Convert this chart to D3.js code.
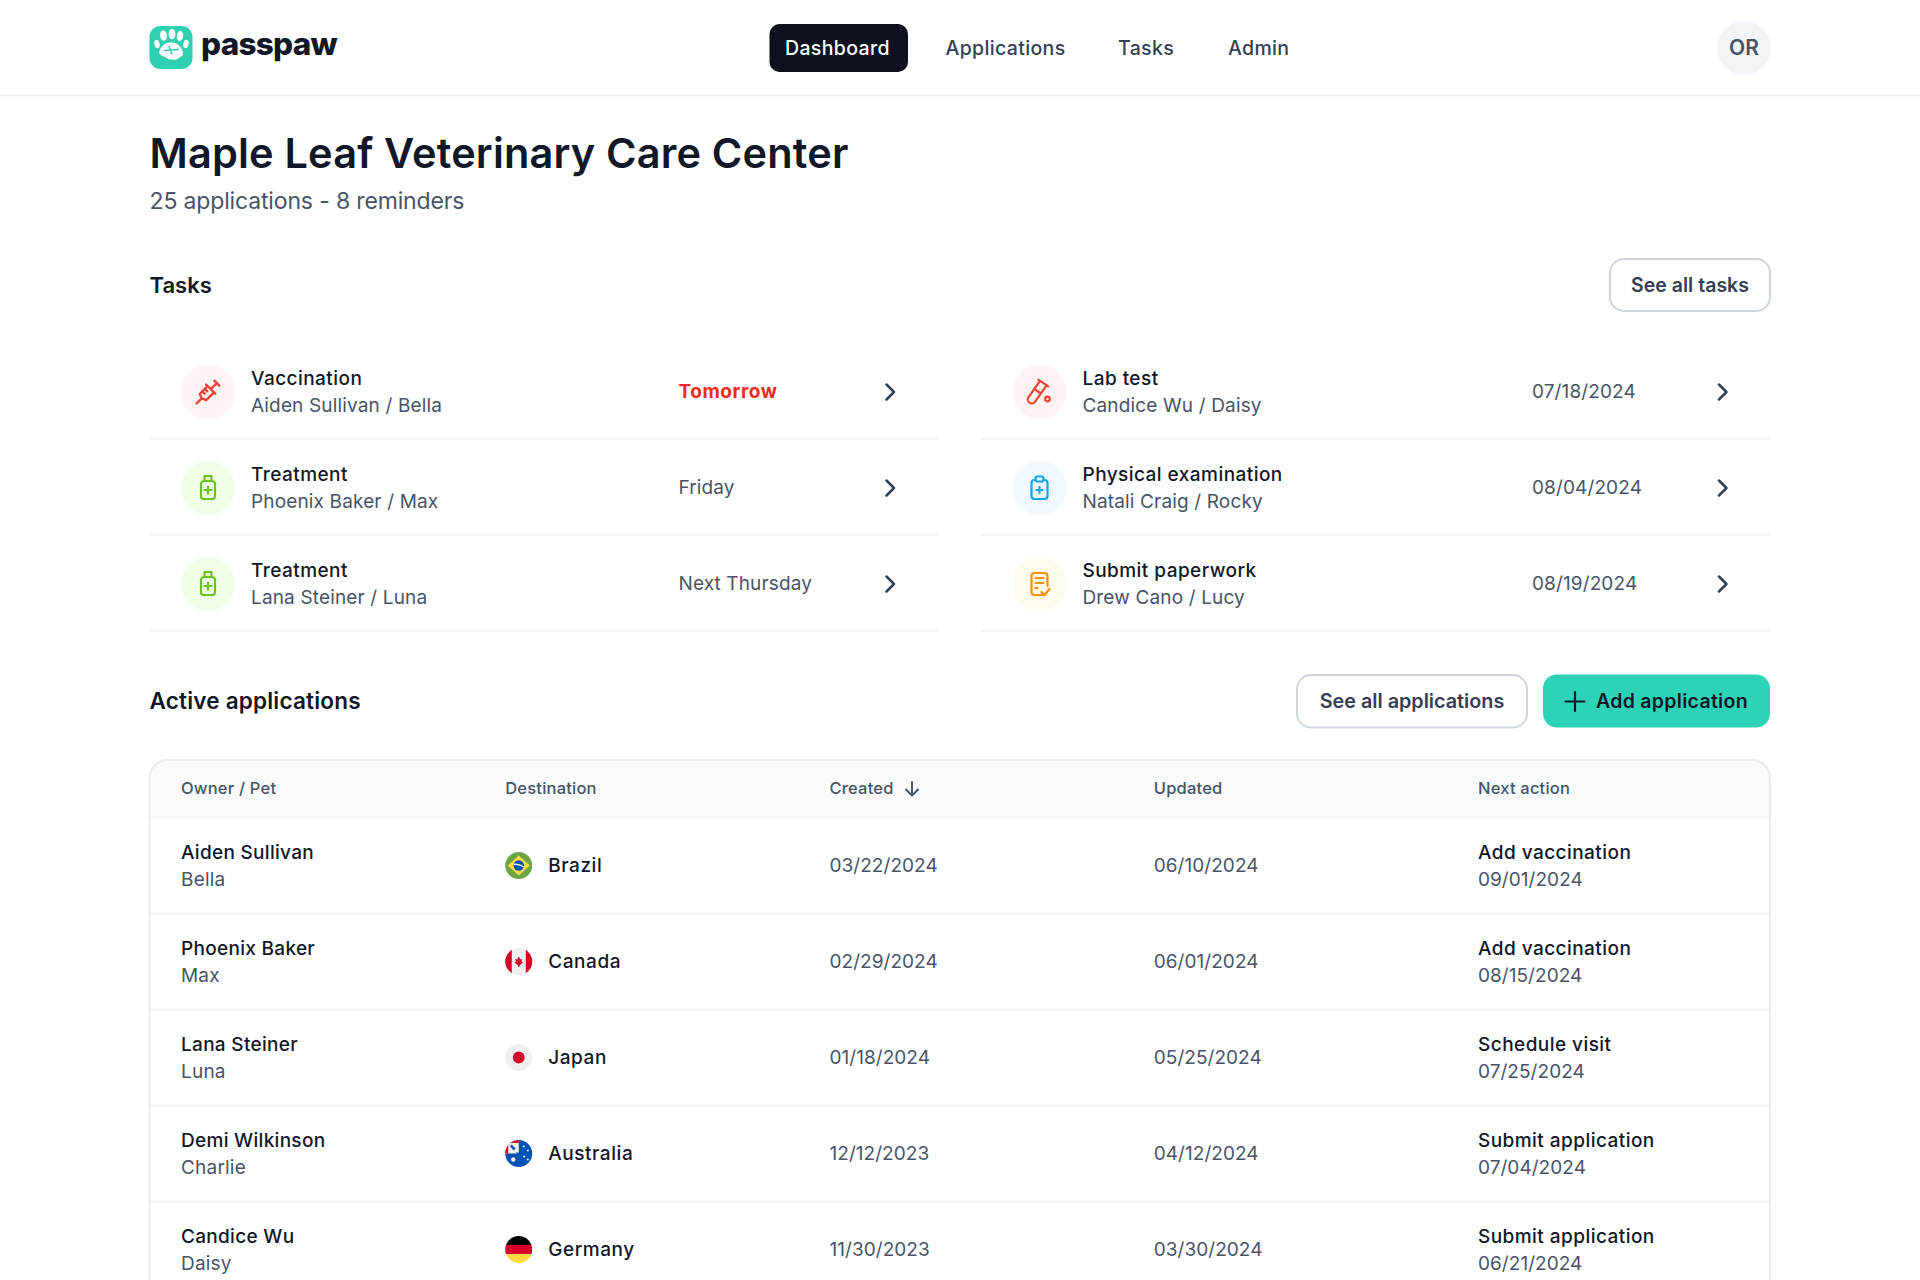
<!DOCTYPE html>
<html><head><meta charset="utf-8">
<script src="https://cdn.jsdelivr.net/npm/d3@7/dist/d3.min.js"></script>
<style>html,body{margin:0;padding:0;background:#fff;overflow:hidden}svg{display:block}text{font-family:Inter,"Noto Sans",sans-serif}</style>
</head><body><div id="c"></div>
<script>
const brandName = "passpaw";
const navItems = ["Dashboard","Applications","Tasks","Admin"];
const avatarInitials = "OR";
const pageTitle = "Maple Leaf Veterinary Care Center";
const pageSubtitle = "25 applications - 8 reminders";
const tasksHeading = "Tasks";
const appsHeading = "Active applications";

const taskTitles = ["Vaccination","Treatment","Treatment","Lab test","Physical examination","Submit paperwork"];
const taskPeople = ["Aiden Sullivan / Bella","Phoenix Baker / Max","Lana Steiner / Luna","Candice Wu / Daisy","Natali Craig / Rocky","Drew Cano / Lucy"];
const taskWhen = ["Tomorrow","Friday","Next Thursday","07/18/2024","08/04/2024","08/19/2024"];
const taskIcons = ["syringe","bottle","bottle","tube","clipboard","paper"];

const columnHeads = ["Owner / Pet","Destination","Created","Updated","Next action"];
const owners = ["Aiden Sullivan","Phoenix Baker","Lana Steiner","Demi Wilkinson","Candice Wu"];
const pets = ["Bella","Max","Luna","Charlie","Daisy"];
const destinations = ["Brazil","Canada","Japan","Australia","Germany"];
const created = ["03/22/2024","02/29/2024","01/18/2024","12/12/2023","11/30/2023"];
const updated = ["06/10/2024","06/01/2024","05/25/2024","04/12/2024","03/30/2024"];
const nextActions = ["Add vaccination","Add vaccination","Schedule visit","Submit application","Submit application"];
const nextDates = ["09/01/2024","08/15/2024","07/25/2024","07/04/2024","06/21/2024"];

const W=1920,H=1280, L=149.5, R=1770;
const INK="#101828", MID="#475467", DARK="#344054", TEAL="#2ed3b7";
const svg=d3.select("#c").append("svg").attr("width",W).attr("height",H).attr("viewBox",[0,0,W,H]);
const defs=svg.append("defs");

function txt(g,x,y,s,size,weight,fill,ls,anchor){
  return g.append("text").attr("x",x).attr("y",y).attr("dy","0.35em").text(s)
    .attr("font-size",size).attr("font-weight",weight).attr("fill",fill)
    .attr("letter-spacing",ls||0).attr("text-anchor",anchor||"start");
}

/* header */
svg.append("line").attr("x1",0).attr("x2",W).attr("y1",95.5).attr("y2",95.5).attr("stroke","#eaecf0").attr("stroke-width",1.5);
const logo=svg.append("g").attr("transform","translate(171,47.5)");
logo.append("rect").attr("x",-21.5).attr("y",-21.5).attr("width",43).attr("height",43).attr("rx",11).attr("fill","#2fd0b0");
[[-7.5,-12,3.4,5.2,-8],[1,-13.5,3.4,5.2,0],[9,-11.5,3.2,5,8],[-14,-3.5,2.6,4.2,-12],[15,-3.5,2.6,4.2,12]].forEach(e=>{
  logo.append("ellipse").attr("cx",e[0]).attr("cy",e[1]).attr("rx",e[2]).attr("ry",e[3]).attr("fill","#fff")
    .attr("transform",`rotate(${e[4]},${e[0]},${e[1]})`);
});
logo.append("path").attr("d","M0,-5 C7,-5 11,0 12,5 C12.5,9 9,9 7,11 C4,14 0,11 -2,12 C-5,9 -11,9 -12,5 C-11,0 -7,-5 0,-5Z").attr("fill","#fff");
logo.append("path").attr("d","M-7,3 L8,2 M-2,-1.5 L1,7").attr("stroke","#2fd0b0").attr("stroke-width",1.5).attr("fill","none");
txt(svg,201,44,brandName,31.5,800,INK,-0.75);

const navStart=[785,945.5,1118,1228];
svg.append("rect").attr("x",769.5).attr("y",24).attr("width",138.5).attr("height",48).attr("rx",10).attr("fill","#0c111d");
navItems.forEach((n,i)=>txt(svg,navStart[i],48,n,19.5,500,i?DARK:"#fff",0.35));
svg.append("circle").attr("cx",1744).attr("cy",48).attr("r",27).attr("fill","#f2f4f7");
txt(svg,1744,48,avatarInitials,21,600,MID,0,"middle");

/* title */
txt(svg,149.5,153.5,pageTitle,41.5,600,INK,0.17);
txt(svg,149.5,200.5,pageSubtitle,23,400,MID,-0.15);

function button(x,w,y,h,filled){
  svg.append("rect").attr("x",x).attr("y",y).attr("width",w).attr("height",h).attr("rx",14)
    .attr("fill",filled?TEAL:"#fff").attr("stroke",filled?TEAL:"#d0d5dd").attr("stroke-width",filled?0:2);
}
txt(svg,149.5,285,tasksHeading,22,600,INK,0);
button(1610,160,259,52,false);
txt(svg,1690,285.5,"See all tasks",19.5,600,DARK,0.02,"middle");

/* tasks */
const taskColX=d3.scaleOrdinal().domain([0,1]).range([L,981]);
const whenOffset=d3.scaleOrdinal().domain([0,1]).range([529,551]);
const chevOffset=d3.scaleOrdinal().domain([0,1]).range([741,742]);
const rowCount=3;
const taskY=d3.scaleLinear().domain([0,rowCount]).range([344,632]);
const iconColors={syringe:["#fef3f2","#f04438"],bottle:["#f3fee7","#66c61c"],tube:["#fef3f2","#f04438"],clipboard:["#f0f9ff","#0ba5ec"],paper:["#fffaeb","#f79009"]};
function icon(g,kind){
  const c=iconColors[kind][1];
  const s=g.append("g").attr("fill","none").attr("stroke",c).attr("stroke-width",2.2).attr("stroke-linejoin","round").attr("stroke-linecap","round");
  const P=d=>s.append("path").attr("d",d);
  if(kind==="syringe"){
    const r=s.append("g").attr("transform","rotate(45)");
    r.append("path").attr("d","M-4.5,-4 H4.5 V7 L0,9 L-4.5,7Z M-6.5,-4 H6.5 M0,-4 V-12 M-3.5,-12.5 H3.5 M0,9 V16 M-4.5,0 H-1 M-4.5,3.5 H-1").attr("fill","none");
    s.attr("stroke-width",2.4);
  } else if(kind==="bottle"){
    P("M-3.5,-12 H3.5 V-7 H-3.5Z M-7,-4 Q-7,-7 -3.5,-7 H3.5 Q7,-7 7,-4 V8 Q7,11 4,11 H-4 Q-7,11 -7,8Z");
    P("M-3.5,2 H3.5 M0,-1.5 V5.5");
  } else if(kind==="tube"){
    const r=s.append("g").attr("transform","translate(-2.5,0) rotate(35)");
    r.append("path").attr("d","M-4,-10 V9 A4,4 0 0 0 4,9 V-10 M-6,-11 H6 M-4,-1 H4");
    s.append("circle").attr("cx",8).attr("cy",7).attr("r",2.3);
  } else if(kind==="clipboard"){
    P("M-4,-8 H-5 Q-8,-8 -8,-5 V8 Q-8,11 -5,11 H5 Q8,11 8,8 V-5 Q8,-8 5,-8 H4");
    s.append("rect").attr("x",-4).attr("y",-11.5).attr("width",8).attr("height",5).attr("rx",2);
    P("M-3,2 H3 M0,-1 V5");
  } else {
    P("M5,11 H-5 Q-8,11 -8,8 V-8 Q-8,-11 -5,-11 H5 Q8,-11 8,-8 V2");
    P("M-4,-6 H4 M-4,-1 H4 M-4,4 H-2 M2,8 L5,11 L10,5");
  }
}
function chevron(g,x,y){
  g.append("path").attr("transform",`translate(${x},${y})`).attr("d","M-4,-7.5 L3.5,0 L-4,7.5").attr("fill","none").attr("stroke",DARK).attr("stroke-width",2.5).attr("stroke-linecap","round").attr("stroke-linejoin","round");
}
taskTitles.forEach((t,i)=>{
  const col=Math.floor(i/rowCount), r=i%rowCount, x=taskColX(col), top=taskY(r), cy=top+48;
  const g=svg.append("g");
  g.append("line").attr("x1",x).attr("x2",x+789).attr("y1",top+95).attr("y2",top+95).attr("stroke","#eaecf0").attr("stroke-width",1.5);
  const k=taskIcons[i];
  const ig=g.append("g").attr("transform",`translate(${x+58.5},${cy})`);
  ig.append("circle").attr("r",27).attr("fill",iconColors[k][0]);
  icon(ig,k);
  txt(g,x+101.5,cy-14,t,19,500,INK,0.45);
  txt(g,x+101.5,cy+13,taskPeople[i],19,400,MID,0.15);
  const late=taskWhen[i]==="Tomorrow";
  txt(g,x+whenOffset(col),cy-0.5,taskWhen[i],19,late?700:400,late?"#f22b1a":MID,late?0.55:0.12);
  chevron(g,x+chevOffset(col),cy);
});

/* apps heading */
txt(svg,149.5,701,appsHeading,22.5,600,INK,0.2);
button(1297,230,675,52.5,false);
txt(svg,1412,701,"See all applications",19.8,600,DARK,0,"middle");
button(1543,227,674.5,53,true);
svg.append("path").attr("d","M1575,692 V711 M1565.5,701.5 H1584.5").attr("stroke",INK).attr("stroke-width",2.2).attr("stroke-linecap","round");
txt(svg,1596,701,"Add application",19.5,600,INK,0.3);

/* table */
const T=760, HH=57.5;
const rowY=d3.scaleLinear().domain([0,5]).range([T+HH,T+HH+480]);
const colX=d3.scaleLinear().domain([0,4]).range([181,1478]);
defs.append("clipPath").attr("id","tbl").append("rect").attr("x",L).attr("y",T).attr("width",R-L).attr("height",H).attr("rx",18);
const tg=svg.append("g").attr("clip-path","url(#tbl)");
tg.append("rect").attr("x",L).attr("y",T).attr("width",R-L).attr("height",HH).attr("fill","#f9fafb");
tg.append("line").attr("x1",L).attr("x2",R).attr("y1",T+HH).attr("y2",T+HH).attr("stroke","#f2f4f7").attr("stroke-width",2);
svg.append("rect").attr("x",L).attr("y",T).attr("width",R-L).attr("height",H).attr("rx",18).attr("fill","none").attr("stroke","#eaecf0").attr("stroke-width",2.2);
columnHeads.forEach((h,i)=>txt(svg,colX(i),788.5,h,16.5,450,MID,0.2));
svg.append("path").attr("d","M912,782 V795 M906,789.5 L912,795.5 L918,789.5").attr("fill","none").attr("stroke",MID).attr("stroke-width",1.9).attr("stroke-linecap","round").attr("stroke-linejoin","round");

function flag(g,name){
  const id="f"+name;
  defs.append("clipPath").attr("id",id).append("circle").attr("r",13.5);
  const f=g.append("g").attr("clip-path",`url(#${id})`);
  const R_=(x,y,w,h,c)=>f.append("rect").attr("x",x).attr("y",y).attr("width",w).attr("height",h).attr("fill",c);
  if(name==="Brazil"){
    R_(-14,-14,28,28,"#6da544");
    f.append("path").attr("d","M0,-10 L11,0 L0,10 L-11,0Z").attr("fill","#ffda44");
    f.append("circle").attr("r",5.2).attr("fill","#0052b4");
    f.append("path").attr("d","M-5,-1 Q0,-2 5,1.5").attr("stroke","#f0f0f0").attr("stroke-width",1.4).attr("fill","none");
  } else if(name==="Canada"){
    R_(-14,-14,28,28,"#f0f0f0"); R_(-14,-14,7,28,"#d80027"); R_(7,-14,7,28,"#d80027");
    f.append("path").attr("d","M0,-5 L1.6,-2 L3.5,-2.6 L2.8,0.6 L4.5,1 L1,3.6 L0.6,5.5 H-0.6 L-1,3.6 L-4.5,1 L-2.8,0.6 L-3.5,-2.6 L-1.6,-2Z").attr("fill","#d80027");
  } else if(name==="Japan"){
    R_(-14,-14,28,28,"#f0f0f3");
    f.append("circle").attr("r",5.9).attr("fill","#d80027");
  } else if(name==="Australia"){
    R_(-14,-14,28,28,"#0052b4");
    R_(-14,-14,14,14,"#f0f0f0");
    f.append("path").attr("d","M-14,-14 H0 V-10.5 H-14Z M-14,-14 V0 H-10.5 V-14Z").attr("fill","#d80027");
    f.append("path").attr("d","M-8,-8 L0,0").attr("stroke","#0052b4").attr("stroke-width",2.5);
    f.append("path").attr("d","M-1,-7 L-7,-1 L0,-1Z").attr("fill","#f0f0f0");
    [[-5.5,6,2.2],[5,-7,1.1],[9,-3,1.1],[5.5,3,1.1],[9,6,1.1]].forEach(s=>f.append("circle").attr("cx",s[0]).attr("cy",s[1]).attr("r",s[2]).attr("fill","#f0f0f0"));
  } else {
    R_(-14,-14,28,9.5,"#000"); R_(-14,-4.6,28,9.2,"#d80027"); R_(-14,4.6,28,10,"#ffda44");
  }
}
owners.forEach((o,i)=>{
  const y=rowY(i), cy=y+48, g=svg.append("g");
  if(i>0) g.append("line").attr("x1",L+1).attr("x2",R-1).attr("y1",y).attr("y2",y).attr("stroke","#eff0f4").attr("stroke-width",2);
  txt(g,colX(0),cy-13,o,19,500,INK,0.3);
  txt(g,colX(0),cy+13.5,pets[i],19,400,MID,0.2);
  const fg=g.append("g").attr("transform",`translate(${colX(1)+13.5},${cy})`);
  flag(fg,destinations[i]);
  txt(g,colX(1)+43,cy,destinations[i],19,500,INK,0.55);
  txt(g,colX(2),cy,created[i],19,400,MID,0.05);
  txt(g,colX(3),cy,updated[i],19,400,MID,0.05);
  txt(g,colX(4),cy-13,nextActions[i],19,500,INK,0.45);
  txt(g,colX(4),cy+13.5,nextDates[i],19,400,MID,0.05);
});
</script></body></html>
